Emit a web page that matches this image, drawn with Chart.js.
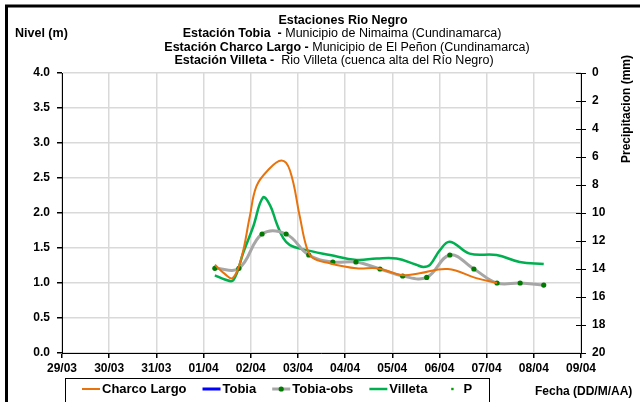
<!DOCTYPE html>
<html>
<head>
<meta charset="utf-8">
<script src="https://cdn.jsdelivr.net/npm/chart.js@4.4.0/dist/chart.umd.min.js"></script>
<style>
  html, body { margin: 0; padding: 0; background: #fff; }
  canvas { display: block; }
</style>
</head>
<body>
<canvas id="nivelChart" width="640" height="402"></canvas>
<script>
/* ===== Estaciones Rio Negro - niveles ===== */

// x = days since 29/03 (0 = 29/03, 11 = 09/04)
const dateLabels = ['29/03', '30/03', '31/03', '01/04', '02/04', '03/04', '04/04', '05/04', '06/04', '07/04', '08/04', '09/04'];

const charcoX = [3.24, 3.45, 3.62, 3.80, 3.98, 4.12, 4.35, 4.65, 4.83, 5.04, 5.18, 5.31, 5.68, 6.24, 6.67, 6.95, 7.23, 7.58, 8.18, 8.78, 9.22];
const charcoY = [1.26, 1.13, 1.07, 1.35, 1.95, 2.38, 2.60, 2.75, 2.61, 1.95, 1.52, 1.36, 1.28, 1.21, 1.21, 1.16, 1.11, 1.14, 1.20, 1.07, 1.00];

const tobiaX = [];
const tobiaY = [];

const tobiaObsX = [3.24, 3.75, 4.24, 4.75, 5.23, 5.74, 6.23, 6.74, 7.22, 7.73, 8.22, 8.73, 9.22, 9.71, 10.21];
const tobiaObsY = [1.21, 1.21, 1.70, 1.70, 1.40, 1.30, 1.30, 1.20, 1.10, 1.08, 1.40, 1.20, 1.00, 1.00, 0.97];

const villetaX = [3.24, 3.45, 3.63, 3.85, 4.05, 4.26, 4.41, 4.55, 4.69, 4.83, 5.11, 5.68, 6.24, 6.67, 7.09, 7.51, 7.66, 7.80, 8.01, 8.22, 8.64, 9.21, 9.70, 10.21];
const villetaY = [1.11, 1.05, 1.04, 1.45, 1.80, 2.22, 2.11, 1.85, 1.64, 1.54, 1.48, 1.40, 1.33, 1.35, 1.35, 1.26, 1.23, 1.26, 1.47, 1.59, 1.42, 1.40, 1.30, 1.27];

const precipX = [];
const precipY = [];

const titleLines = [
  [['Estaciones Rio Negro', true]],
  [['Estación Tobia  -', true], [' Municipio de Nimaima (Cundinamarca)', false]],
  [['Estación Charco Largo -', true], [' Municipio de El Peñon (Cundinamarca)', false]],
  [['Estación Villeta -', true], ['  Rio Villeta (cuenca alta del Río Negro)', false]]
];

const FONT = "'Liberation Sans', Arial, sans-serif";

function pts(xs, ys) {
  return xs.map((x, i) => ({ x: x, y: ys[i] }));
}

const framePlugin = {
  id: 'frame',
  beforeDraw(chart) {
    const ctx = chart.ctx;
    ctx.save();
    ctx.fillStyle = '#fff';
    ctx.fillRect(0, 0, chart.width, chart.height);
    ctx.restore();
  },
  afterDraw(chart) {
    const ctx = chart.ctx;
    ctx.save();
    ctx.strokeStyle = '#000';
    ctx.lineWidth = 3;
    ctx.beginPath();
    ctx.moveTo(6.5, chart.height);
    ctx.lineTo(6.5, 6);
    ctx.lineTo(chart.width, 6);
    ctx.stroke();

    // right axis ticks also cross into the plot
    const y2 = chart.scales.y2;
    ctx.lineWidth = 1;
    ctx.beginPath();
    y2.ticks.forEach(t => {
      const py = Math.round(y2.getPixelForValue(t.value)) + 0.5;
      ctx.moveTo(y2.left - 5, py);
      ctx.lineTo(y2.left, py);
    });
    ctx.stroke();

    // title
    const centers = [343, 342, 347, 334];
    const ys = [21, 34, 47.5, 61];
    ctx.fillStyle = '#000';
    ctx.textBaseline = 'middle';
    ctx.textAlign = 'left';
    titleLines.forEach((segs, i) => {
      let w = 0;
      segs.forEach(s => {
        ctx.font = (s[1] ? 'bold ' : '') + '12.5px ' + FONT;
        w += ctx.measureText(s[0]).width;
      });
      let x = centers[i] - w / 2;
      segs.forEach(s => {
        ctx.font = (s[1] ? 'bold ' : '') + '12.5px ' + FONT;
        ctx.fillText(s[0], x, ys[i]);
        x += ctx.measureText(s[0]).width;
      });
    });

    ctx.font = 'bold 12.5px ' + FONT;
    ctx.fillText('Nivel (m)', 15, 34);
    ctx.font = 'bold 12px ' + FONT;
    ctx.fillText('Fecha (DD/M/AA)', 535, 392);

    ctx.translate(627, 109);
    ctx.rotate(-Math.PI / 2);
    ctx.textAlign = 'center';
    ctx.fillText('Precipitacion (mm)', 0, 0);
    ctx.restore();

    drawLegend(chart);
  }
};

function drawLegend(chart) {
  const ctx = chart.ctx;
  ctx.save();
  ctx.strokeStyle = '#000';
  ctx.lineWidth = 1;
  ctx.strokeRect(65.5, 378.5, 424, 26);

  ctx.font = 'bold 13px ' + FONT;
  ctx.textBaseline = 'middle';
  ctx.textAlign = 'left';
  let x = 82;
  const y = 389;
  chart.data.datasets.forEach(ds => {
    if (ds.showLine !== false) {
      ctx.strokeStyle = ds.borderColor;
      ctx.lineWidth = ds.borderWidth;
      ctx.beginPath();
      ctx.moveTo(x, y);
      ctx.lineTo(x + 18, y);
      ctx.stroke();
    }
    if (ds.pointRadius > 0) {
      ctx.fillStyle = ds.pointBackgroundColor;
      ctx.beginPath();
      if (ds.pointStyle === 'rect') {
        ctx.fillRect(x + 9 - ds.pointRadius, y - ds.pointRadius, ds.pointRadius * 2, ds.pointRadius * 2);
      } else {
        ctx.arc(x + 9, y, ds.pointRadius, 0, Math.PI * 2);
        ctx.fill();
      }
    }
    ctx.fillStyle = '#000';
    ctx.fillText(ds.label, x + 20, y);
    x += 20 + ctx.measureText(ds.label).width + 16;
  });
  ctx.restore();
}

const tickFont = { family: FONT, size: 12, weight: 'bold' };

new Chart(document.getElementById('nivelChart').getContext('2d'), {
  type: 'line',
  data: {
    datasets: [
      {
        label: 'Charco Largo',
        data: pts(charcoX, charcoY),
        borderColor: '#e8730c',
        borderWidth: 2,
        pointRadius: 0,
        tension: 0.4,
        yAxisID: 'y'
      },
      {
        label: 'Tobia',
        data: pts(tobiaX, tobiaY),
        borderColor: '#0000ff',
        borderWidth: 3,
        pointRadius: 0,
        tension: 0.4,
        yAxisID: 'y'
      },
      {
        label: 'Tobia-obs',
        data: pts(tobiaObsX, tobiaObsY),
        borderColor: '#a6a6a6',
        borderWidth: 3,
        pointRadius: 2.6,
        pointBackgroundColor: '#007a00',
        pointBorderWidth: 0,
        tension: 0.4,
        yAxisID: 'y'
      },
      {
        label: 'Villeta',
        data: pts(villetaX, villetaY),
        borderColor: '#00b050',
        borderWidth: 2.5,
        pointRadius: 0,
        tension: 0.4,
        yAxisID: 'y'
      },
      {
        label: 'P',
        data: pts(precipX, precipY),
        showLine: false,
        borderColor: '#00a000',
        borderWidth: 0,
        pointRadius: 1.2,
        pointStyle: 'rect',
        pointBackgroundColor: '#00a000',
        yAxisID: 'y2'
      }
    ]
  },
  options: {
    responsive: false,
    animation: false,
    layout: { padding: { top: 73, left: 0, right: 0, bottom: 0 } },
    plugins: {
      legend: { display: false },
      title: { display: false },
      tooltip: { enabled: false }
    },
    scales: {
      x: {
        type: 'linear',
        min: 0,
        max: 11,
        afterFit: s => { s.height = 49; },
        border: { color: '#000', width: 1 },
        grid: { color: '#d9d9d9', lineWidth: 1.5, tickColor: '#000', tickLength: 5 },
        ticks: {
          stepSize: 1,
          autoSkip: false,
          maxRotation: 0,
          padding: 3,
          color: '#000',
          font: tickFont,
          callback: v => dateLabels[v]
        }
      },
      y: {
        position: 'left',
        min: 0,
        max: 4,
        afterFit: s => { s.width = 62; },
        border: { color: '#000', width: 1 },
        grid: { color: '#d9d9d9', lineWidth: 1.5, tickColor: '#000', tickLength: 5 },
        ticks: {
          stepSize: 0.5,
          padding: 7,
          color: '#000',
          font: tickFont,
          callback: v => v.toFixed(1)
        }
      },
      y2: {
        position: 'right',
        min: 0,
        max: 20,
        reverse: true,
        afterFit: s => { s.width = 59; },
        border: { color: '#000', width: 1 },
        grid: { drawOnChartArea: false, tickColor: '#000', tickLength: 5 },
        ticks: {
          stepSize: 2,
          padding: 6,
          color: '#000',
          font: tickFont
        }
      }
    }
  },
  plugins: [framePlugin]
});
</script>
</body>
</html>
